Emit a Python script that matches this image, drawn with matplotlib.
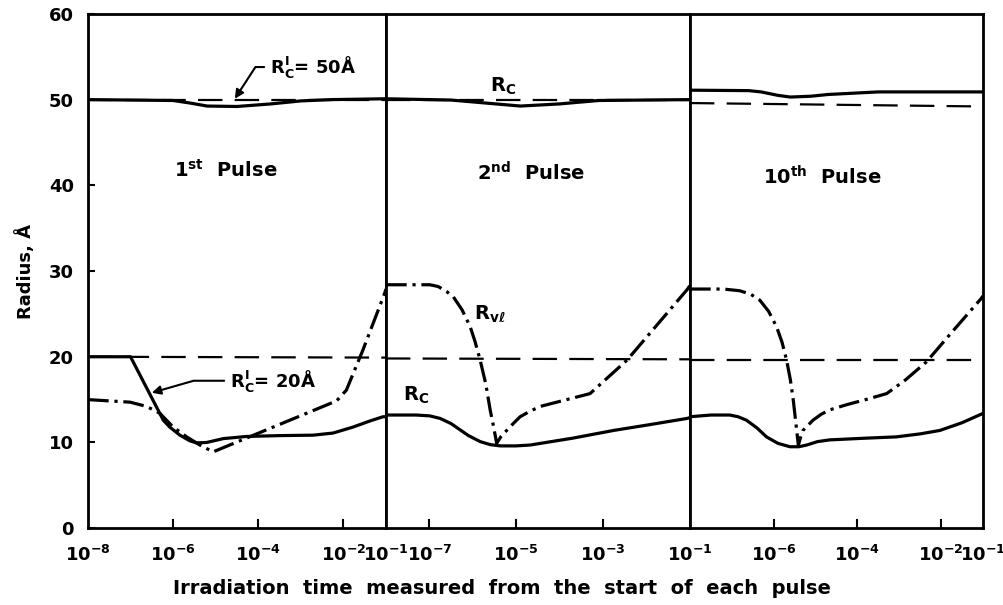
import numpy as np
import matplotlib
matplotlib.use("Agg")
import matplotlib.pyplot as plt

plt.rcParams['font.family'] = ['DejaVu Sans']
plt.rcParams['font.weight'] = 'bold'
plt.rcParams['mathtext.fontset'] = 'dejavusans'
plt.rcParams['mathtext.default'] = 'bf'

# log10 of time (s) from the start of each pulse, one list per pulse
pulses = ['1$^{st}$  Pulse', '2$^{nd}$  Pulse', '10$^{th}$  Pulse']

rc50_t = [[-8, -6, -5.6, -5.2, -4.5, -3.7, -3.0, -2.3, -1],
          [-8, -6.5, -5.7, -4.9, -4.0, -3.1, -1],
          [-8, -6.6, -6.3, -5.9, -5.6, -5.1, -4.7, -3.5, -1]]
rc50_v = [[50.0, 49.9, 49.6, 49.25, 49.2, 49.5, 49.85, 50.0, 50.1],
          [50.1, 49.95, 49.6, 49.25, 49.5, 49.9, 50.0],
          [51.1, 51.05, 50.9, 50.5, 50.3, 50.4, 50.6, 50.9, 50.9]]

rc20_t = [[-8, -7.0, -6.23, -6.08, -5.84, -5.61, -5.45, -5.21, -4.82, -4.27, -3.49, -2.71, -2.24, -1.77, -1.38, -1.07, -1],
          [-8, -7.3, -6.99, -6.75, -6.5, -6.3, -6.1, -5.83, -5.6, -5.37, -5.0, -4.68, -3.7, -2.76, -1.9, -1.07, -1],
          [-8, -7.5, -7.05, -6.85, -6.65, -6.4, -6.17, -5.9, -5.61, -5.4, -5.21, -4.95, -4.66, -3.8, -3.07, -2.5, -2.03, -1.5, -1.04, -1]]
rc20_v = [[20.0, 20.0, 12.6, 11.8, 10.85, 10.2, 9.95, 10.0, 10.45, 10.7, 10.8, 10.85, 11.1, 11.8, 12.5, 13.0, 13.0],
          [13.2, 13.2, 13.1, 12.8, 12.2, 11.5, 10.8, 10.1, 9.75, 9.6, 9.6, 9.7, 10.5, 11.4, 12.1, 12.8, 12.9],
          [13.0, 13.2, 13.2, 13.0, 12.6, 11.7, 10.65, 9.9, 9.5, 9.5, 9.7, 10.1, 10.3, 10.5, 10.65, 11.0, 11.4, 12.3, 13.3, 13.4]]

rvl_t = [[-8, -7.01, -6.62, -6.31, -6.0, -5.68, -5.37, -5.06, -2.16, -1.93, -1.54, -1.03, -1],
         [-8, -7.3, -6.99, -6.8, -6.6, -6.45, -6.25, -6.06, -5.95, -5.83, -5.7, -5.6, -5.52, -5.45,
          -5.35, -5.22, -5.05, -4.91, -4.7, -4.45, -3.3, -2.45, -1.07, -1],
         [-8, -7.2, -6.81, -6.55, -6.33, -6.12, -5.93, -5.8, -5.69, -5.6, -5.53, -5.47, -5.41,
          -5.35, -5.3, -5.18, -5.06, -4.86, -4.66, -4.26, -3.8, -3.3, -2.85, -2.35, -1.7, -1.04, -1]]
rvl_v = [[15.0, 14.7, 14.2, 13.4, 11.8, 10.65, 9.7, 8.9, 14.85, 16.1, 20.8, 27.4, 27.9],
         [28.4, 28.4, 28.4, 28.2, 27.6, 27.0, 25.5, 23.5, 21.8, 19.6, 16.8, 13.8, 11.8, 9.9,
          10.7, 11.4, 12.3, 13.0, 13.6, 14.2, 15.7, 19.6, 27.8, 28.3],
         [27.9, 27.9, 27.7, 27.3, 26.6, 25.3, 23.5, 21.7, 19.6, 17.3, 14.9, 12.3, 9.7,
          10.7, 11.4, 12.0, 12.6, 13.3, 13.8, 14.4, 15.0, 15.7, 17.3, 19.4, 23.1, 26.8, 27.1]]

# initial radius reference lines (start / end value in each panel)
init50 = [[50.0, 50.0], [50.0, 50.0], [49.6, 49.2]]
init20 = [[20.0, 19.9], [19.8, 19.7], [19.6, 19.6]]

tick_labels = [[-8, -6, -4, -2, -1], [-7, -5, -3, -1], [-6, -4, -2, -1]]
tick_marks = [[-6, -4, -2], [-7, -5, -3], [-6, -4, -2]]

fig, axes = plt.subplots(1, 3, sharey=True, figsize=(10.04, 6.05), dpi=100,
                         gridspec_kw={'width_ratios': [298, 304, 293], 'wspace': 0})
fig.subplots_adjust(left=0.0876, right=0.979, bottom=0.127, top=0.977)

dash = (0, (11, 5.5))
dashdot = (0, (6.5, 1.8, 1.0, 1.8))

for i, ax in enumerate(axes):
    ax.set_xscale('log')
    ax.set_xlim(1e-8, 1e-1)
    ax.set_ylim(0, 60)
    ends = [1e-8, 1e-1]
    ax.plot(ends, init50[i], color='black', lw=1.6, linestyle=dash)
    ax.plot(ends, init20[i], color='black', lw=1.6, linestyle=dash)
    ax.plot(10.0 ** np.array(rc50_t[i]), rc50_v[i], color='black', lw=2.3)
    ax.plot(10.0 ** np.array(rc20_t[i]), rc20_v[i], color='black', lw=2.3)
    ax.plot(10.0 ** np.array(rvl_t[i]), rvl_v[i], color='black', lw=2.3, linestyle=dashdot)

    ax.xaxis.set_minor_locator(matplotlib.ticker.NullLocator())
    ax.set_xticks([10.0 ** k for k in tick_labels[i]])
    ax.set_xticklabels(['$10^{%d}$' % k for k in tick_labels[i]], fontsize=13)
    ax.tick_params(axis='x', direction='in', length=0, pad=12)
    for k in tick_marks[i]:
        ax.plot([10.0 ** k, 10.0 ** k], [0, 1.0], color='black', lw=1.5)
    for s in ax.spines.values():
        s.set_linewidth(2.0)
    ax.text(10 ** [-4.76, -4.66, -4.85][i], [41.8, 41.5, 41.0][i], pulses[i],
            ha='center', va='center', fontsize=14, fontweight='bold')

axes[0].set_yticks([0, 10, 20, 30, 40, 50, 60])
axes[0].tick_params(axis='y', direction='in', length=5, width=1.5, labelsize=13, pad=10)
for ax in axes[1:]:
    ax.tick_params(axis='y', left=False)
axes[0].set_ylabel('Radius, Å', fontsize=13, fontweight='bold', labelpad=10)

fig.text(0.5, 0.028, 'Irradiation  time  measured  from  the  start  of  each  pulse',
         ha='center', va='center', fontsize=14, fontweight='bold')

# labels
axes[0].annotate('$R_C^I$= 50Å', xy=(10 ** -4.55, 50.1), xytext=(10 ** -3.73, 53.8),
                 ha='left', va='center', fontsize=13,
                 arrowprops=dict(arrowstyle='-|>', color='black', lw=1.5,
                                 connectionstyle='angle,angleA=0,angleB=57,rad=0',
                                 shrinkA=2, shrinkB=0))
axes[0].annotate('$R_C^I$= 20Å', xy=(10 ** -6.5, 15.8), xytext=(10 ** -4.67, 17.2),
                 ha='left', va='center', fontsize=13,
                 arrowprops=dict(arrowstyle='-|>', color='black', lw=1.5,
                                 connectionstyle='angle,angleA=0,angleB=16,rad=0',
                                 shrinkA=2, shrinkB=0))
axes[1].text(10 ** -5.3, 51.6, '$R_C$', ha='center', va='center', fontsize=14)
axes[1].text(10 ** -5.6, 25.0, '$R_{v\\ell}$', ha='center', va='center', fontsize=14)
axes[1].text(10 ** -7.31, 15.5, '$R_C$', ha='center', va='center', fontsize=14)

fig.savefig('out.png', dpi=100)
